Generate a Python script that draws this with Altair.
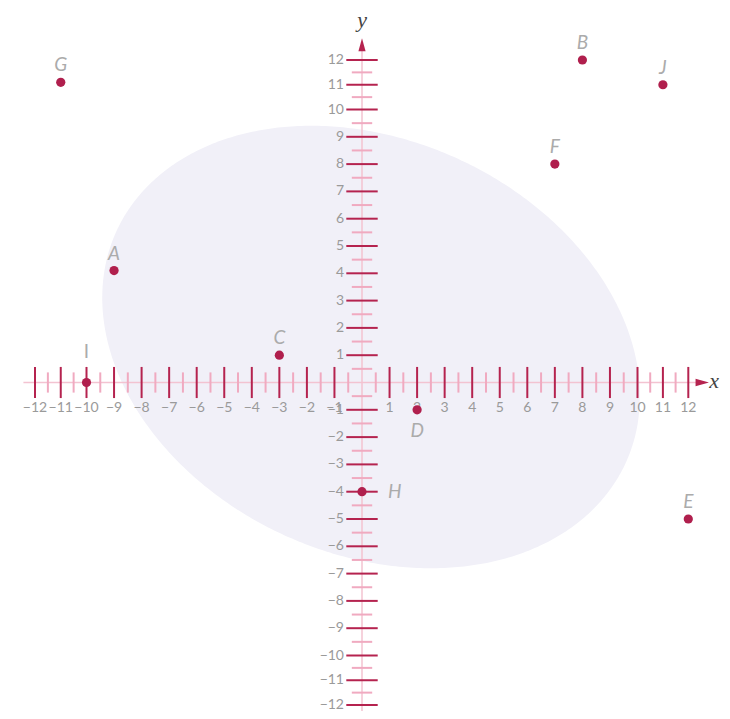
import altair as alt
import pandas as pd
import numpy as np

# ---- data ----
point_names = ["A", "B", "C", "D", "E", "F", "G", "H", "I", "J"]
point_x = [-9, 8, -3, 2, 12, 7, -11, 0, -10, 11]
point_y = [4.1, 12, 1, -1, -5, 8, 11.1, -4, 0, 11]
label_side = ["above", "above", "above", "below", "above", "above", "above", "right", "high", "above"]

major_ticks = [-12, -11, -10, -9, -8, -7, -6, -5, -4, -3, -2, -1,
               1, 2, 3, 4, 5, 6, 7, 8, 9, 10, 11, 12]
minor_ticks = [-11.5, -10.5, -9.5, -8.5, -7.5, -6.5, -5.5, -4.5, -3.5, -2.5, -1.5, -0.5,
               0.5, 1.5, 2.5, 3.5, 4.5, 5.5, 6.5, 7.5, 8.5, 9.5, 10.5, 11.5]
tick_labels = [("−" + str(-t)) if t < 0 else str(t) for t in major_ticks]

ellipse_center = (0.33, 1.3)
ellipse_semi_axes = (10.17, 7.58)
ellipse_angle_deg = -25.0

# ---- styles ----
DARK = "#b5234f"
POINT = "#b01f4d"
PINK = "#f0aac0"
AXISLINE = "#f3c3d1"
GRAY = "#9a9a9a"
LABELGRAY = "#ababab"
FILL = "#f1f0f8"
FONT = "Lato"

xscale = alt.Scale(domain=[-12, -10, 10, 12], range=[27, 78.5, 629.5, 680.3], nice=False, zero=False)
yscale = alt.Scale(domain=[-12, -10, 10, 12], range=[697, 647.5, 101.5, 52], nice=False, zero=False)


def X(f):
    return alt.X(f, type="quantitative", scale=xscale, axis=None)


def Y(f):
    return alt.Y(f, type="quantitative", scale=yscale, axis=None)


# ---- ellipse outline (upper / lower boundary for an area mark) ----
cx, cy = ellipse_center
a, b = ellipse_semi_axes
th = np.radians(ellipse_angle_deg)
c, s = np.cos(th), np.sin(th)
W = np.sqrt(a**2 * c**2 + b**2 * s**2)
xs = cx + W * np.cos(np.linspace(np.pi, 0, 241))
Xr = xs - cx
A = s**2 / a**2 + c**2 / b**2
B = 2 * Xr * c * s * (1 / a**2 - 1 / b**2)
C = Xr**2 * (c**2 / a**2 + s**2 / b**2) - 1
disc = np.clip(B**2 - 4 * A * C, 0, None)
y_up = cy + (-B + np.sqrt(disc)) / (2 * A)
y_lo = cy + (-B - np.sqrt(disc)) / (2 * A)
ell_df = pd.DataFrame({"x": xs, "y": y_up, "y2": y_lo})

ellipse = alt.Chart(ell_df).mark_area(color=FILL, orient="vertical", opacity=1).encode(
    x=X("x"), y=Y("y"), y2="y2"
)

# ---- axes lines ----
xline = alt.Chart(pd.DataFrame({"x": [-12.45], "x2": [12.35], "y": [0]})).mark_rule(
    color=AXISLINE, strokeWidth=1.5).encode(x=X("x"), x2="x2", y=Y("y"))
yline = alt.Chart(pd.DataFrame({"y": [-12.8], "y2": [12.4], "x": [0]})).mark_rule(
    color=AXISLINE, strokeWidth=1.5).encode(y=Y("y"), y2="y2", x=X("x"))

MINOR = 0.37
MAJOR = 0.57
minor_x = alt.Chart(pd.DataFrame({"t": minor_ticks, "lo": -MINOR, "hi": MINOR})).mark_rule(
    color=PINK, strokeWidth=2).encode(x=X("t"), y=Y("lo"), y2="hi")
minor_y = alt.Chart(pd.DataFrame({"t": minor_ticks, "lo": -MINOR, "hi": MINOR})).mark_rule(
    color=PINK, strokeWidth=2).encode(y=Y("t"), x=X("lo"), x2="hi")
major_x = alt.Chart(pd.DataFrame({"t": major_ticks, "lo": -MAJOR, "hi": MAJOR})).mark_rule(
    color=DARK, strokeWidth=2).encode(x=X("t"), y=Y("lo"), y2="hi")
major_y = alt.Chart(pd.DataFrame({"t": major_ticks, "lo": -MAJOR, "hi": MAJOR})).mark_rule(
    color=DARK, strokeWidth=2).encode(y=Y("t"), x=X("lo"), x2="hi")

arrow_x = alt.Chart(pd.DataFrame({"x": [12.55], "y": [0]})).mark_point(
    shape="M-1,-0.55L1,0L-1,0.55Z", filled=True, color=DARK, size=180, opacity=1
).encode(x=X("x"), y=Y("y"))
arrow_y = alt.Chart(pd.DataFrame({"x": [0], "y": [12.62]})).mark_point(
    shape="M-0.55,1L0,-1L0.55,1Z", filled=True, color=DARK, size=170, opacity=1
).encode(x=X("x"), y=Y("y"))

ticks_df = pd.DataFrame({"t": major_ticks, "label": tick_labels, "zero": 0})
xlabels = alt.Chart(ticks_df).mark_text(
    font=FONT, fontSize=14, color=GRAY, dy=25, baseline="middle", align="center"
).encode(x=X("t"), y=Y("zero"), text="label:N")
ylabels = alt.Chart(ticks_df).mark_text(
    font=FONT, fontSize=14, color=GRAY, dx=-18, baseline="middle", align="right"
).encode(y=Y("t"), x=X("zero"), text="label:N")

# ---- points and labels ----
pts = pd.DataFrame({"name": point_names, "x": point_x, "y": point_y, "side": label_side})
dots = alt.Chart(pts).mark_circle(color=POINT, size=85, opacity=1).encode(x=X("x"), y=Y("y"))

offsets = {"above": dict(dy=-17), "below": dict(dy=21), "right": dict(dx=26, align="left"),
           "high": dict(dy=-31, fontStyle="normal")}
label_layers = []
for side, kw in offsets.items():
    opts = dict(font=FONT, fontSize=19, fontStyle="italic", color=LABELGRAY, baseline="middle",
                align="center")
    opts.update(kw)
    label_layers.append(
        alt.Chart(pts).transform_filter(alt.datum.side == side).mark_text(**opts).encode(
            x=X("x"), y=Y("y"), text="name:N")
    )

titles_df = pd.DataFrame({"x": [12.82, 0], "y": [-0.2, 13.35], "t": ["x", "y"]})
xtitle = alt.Chart(titles_df.iloc[[0]]).mark_text(
    font="Liberation Serif", fontStyle="italic", fontSize=22, color="#444", align="left",
    baseline="alphabetic").encode(x=X("x"), y=Y("y"), text="t:N")
ytitle = alt.Chart(titles_df.iloc[[1]]).mark_text(
    font="Liberation Serif", fontStyle="italic", fontSize=22, color="#444", align="center",
    baseline="alphabetic").encode(x=X("x"), y=Y("y"), text="t:N")

chart = alt.layer(
    ellipse, xline, yline, minor_x, minor_y, major_x, major_y, arrow_x, arrow_y,
    xlabels, ylabels, dots, *label_layers, xtitle, ytitle
).properties(
    width=714, height=703, autosize=alt.AutoSizeParams(type="none"), padding=0,
    background="white"
).configure_view(stroke=None)

chart.save("out.html", embed_options={"renderer": "svg", "actions": False})
